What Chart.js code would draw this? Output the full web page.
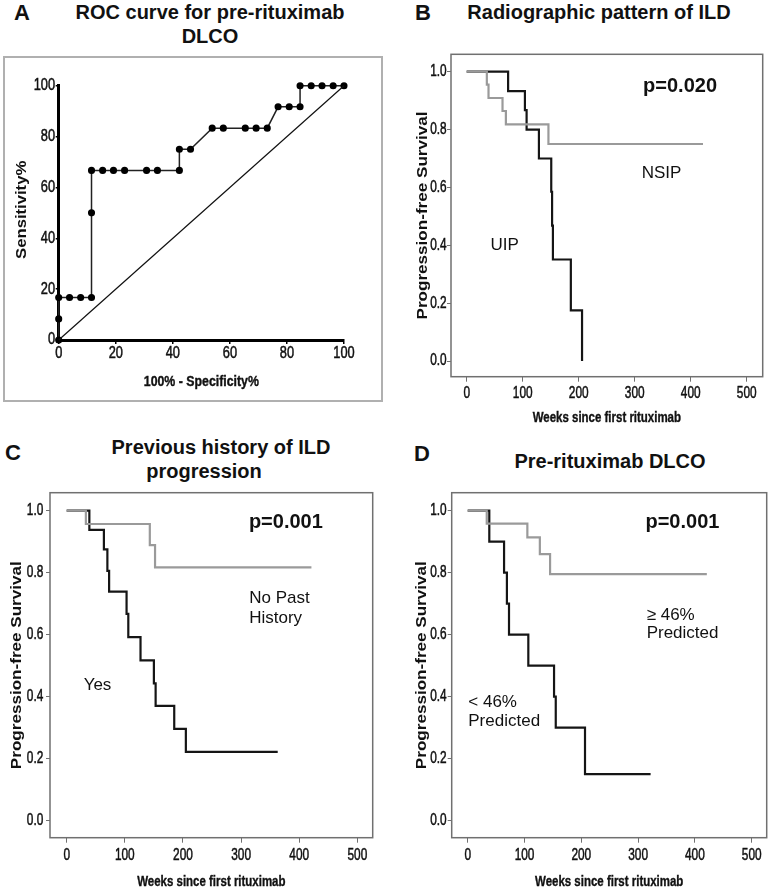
<!DOCTYPE html>
<html>
<head>
<meta charset="utf-8">
<script src="https://cdn.jsdelivr.net/npm/chart.js@4.4.1/dist/chart.umd.min.js"></script>
<style>
  body { margin: 0; background: #fff; width: 771px; height: 892px; position: relative; overflow: hidden;
         font-family: 'Liberation Sans', Arial, sans-serif; color: #111; }
  canvas { position: absolute; }
  .t { position: absolute; transform: translate(-50%, -50%); font-weight: bold; font-size: 20px;
       line-height: 1; white-space: nowrap; }
  .lbl { font-size: 22px; }
  #boxA { position: absolute; left: 3px; top: 56px; width: 380px; height: 346px;
          border: 2px solid #b0b0b0; box-sizing: border-box; }
</style>
</head>
<body>
<div id="boxA"></div>
<div class="t lbl" style="left:22px;top:13px">A</div>
<div class="t" style="left:210px;top:12px">ROC curve for pre-rituximab</div>
<div class="t" style="left:210px;top:36px">DLCO</div>
<div class="t lbl" style="left:423px;top:13px">B</div>
<div class="t" style="left:599px;top:12px">Radiographic pattern of ILD</div>
<div class="t lbl" style="left:13px;top:453px">C</div>
<div class="t" style="left:221px;top:447px">Previous history of ILD</div>
<div class="t" style="left:204px;top:471px">progression</div>
<div class="t lbl" style="left:422px;top:454px">D</div>
<div class="t" style="left:610px;top:461px">Pre-rituximab DLCO</div>

<canvas id="rocChart" width="376" height="342" style="left:5px;top:58px"></canvas>
<canvas id="ildChart" width="386" height="395" style="left:385px;top:40px"></canvas>
<canvas id="historyChart" width="385" height="410" style="left:0px;top:482px"></canvas>
<canvas id="dlcoChart" width="386" height="410" style="left:385px;top:482px"></canvas>

<script>
// ---- data ----
// A: ROC curve, pre-rituximab DLCO
const rocFpr  = [0, 0, 0, 3.8, 7.7, 11.5, 11.5, 11.5, 15.4, 19.2, 23.1, 30.8, 34.6, 42.3, 42.3, 46.2,
                 53.8, 57.7, 65.4, 69.2, 73.1, 76.9, 80.8, 84.6, 84.6, 88.5, 92.3, 96.2, 100];
const rocSens = [0, 8.3, 16.7, 16.7, 16.7, 16.7, 50, 66.7, 66.7, 66.7, 66.7, 66.7, 66.7, 66.7, 75, 75,
                 83.3, 83.3, 83.3, 83.3, 83.3, 91.7, 91.7, 91.7, 100, 100, 100, 100, 100];
const diagX = [0, 100];
const diagY = [0, 100];
const rocTicks = [0, 20, 40, 60, 80, 100];

// B-D: Kaplan-Meier curves (weeks since first rituximab, progression-free survival)
const weekTicks = [0, 100, 200, 300, 400, 500];
const survTicks = [0, 0.2, 0.4, 0.6, 0.8, 1.0];

const nsipWeeks = [0, 36, 39, 64, 70, 146, 422];
const nsipSurv  = [1, 0.955, 0.909, 0.864, 0.818, 0.75, 0.75];
const uipWeeks  = [0, 74, 104, 107, 129, 151, 152.5, 154, 186, 206];
const uipSurv   = [1, 0.933, 0.867, 0.8, 0.7, 0.585, 0.468, 0.351, 0.175, 0];

const noHistWeeks = [0, 33, 143, 152, 421];
const noHistSurv  = [1, 0.957, 0.889, 0.817, 0.817];
const yesWeeks = [0, 39, 64, 70, 73, 103, 106, 127, 150, 153, 185, 205, 363];
const yesSurv  = [1, 0.938, 0.875, 0.806, 0.739, 0.667, 0.592, 0.517, 0.443, 0.37, 0.296, 0.222, 0.222];

const hiWeeks = [0, 33.5, 105, 127, 145, 421];
const hiSurv  = [1, 0.958, 0.914, 0.86, 0.795, 0.795];
const loWeeks = [0, 38, 64, 69, 72.7, 106.7, 152, 155, 206.5, 322];
const loSurv  = [1, 0.9, 0.8, 0.7, 0.6, 0.5, 0.4, 0.3, 0.15, 0.15];

const SANS = "'Liberation Sans', Arial, sans-serif";
const GREY = '#9a9a9a';
const DARK = '#151515';

const pts = (xs, ys) => xs.map((x, i) => ({ x: x, y: ys[i] }));

// box round the plot area (SPSS style)
const framePlugin = {
  id: 'frame',
  beforeDatasetsDraw(chart, args, opts) {
    if (!opts.color) return;
    const a = chart.chartArea, ctx = chart.ctx;
    ctx.save();
    ctx.strokeStyle = opts.color;
    ctx.lineWidth = opts.width || 1.5;
    ctx.strokeRect(a.left, a.top, a.right - a.left, a.bottom - a.top);
    ctx.restore();
  }
};

// text placed at data coordinates
const notesPlugin = {
  id: 'notes',
  afterDatasetsDraw(chart, args, opts) {
    const ctx = chart.ctx, xs = chart.scales.x, ys = chart.scales.y;
    ctx.save();
    ctx.fillStyle = '#111';
    ctx.textBaseline = 'middle';
    (opts.items || []).forEach(n => {
      ctx.font = n.font;
      ctx.textAlign = n.align || 'center';
      ctx.fillText(n.text, xs.getPixelForValue(n.x), ys.getPixelForValue(n.y));
    });
    ctx.restore();
  }
};

const squeezePlugin = {
  id: 'squeeze',
  afterDraw(chart, args, o) {
    const ctx = chart.ctx, a = chart.chartArea, xs = chart.scales.x, ys = chart.scales.y;
    const put = (text, x, y, font, sx, align, rot, weight) => {
      ctx.save();
      ctx.translate(x, y);
      if (rot) ctx.rotate(-Math.PI / 2);
      ctx.scale(sx, 1);
      ctx.font = font;
      ctx.textAlign = align;
      ctx.textBaseline = 'middle';
      ctx.fillStyle = '#111';
      ctx.fillText(text, 0, 0);
      if (weight) {
        ctx.strokeStyle = '#111';
        ctx.lineWidth = weight;
        ctx.strokeText(text, 0, 0);
      }
      ctx.restore();
    };
    xs.ticks.forEach((t, i) => put(o.fmtX(t.value), xs.getPixelForTick(i), a.bottom + o.xGap, o.tickFont, o.tickSx, 'center', false, 0.5));
    ys.ticks.forEach((t, i) => put(o.fmtY(t.value), a.left - o.yGap, ys.getPixelForTick(i), o.tickFont, o.tickSx, 'right', false, 0.5));
    put(o.xTitle, (a.left + a.right) / 2, a.bottom + o.xTitleGap, o.xTitleFont, o.xTitleSx, 'center', false, 0.4);
    put(o.yTitle, a.left - o.yTitleGap, (a.top + a.bottom) / 2 + (o.yTitleDy || 0), o.yTitleFont, o.yTitleSx, 'center', true, 0);
  }
};

function axis(o) {
  return {
    type: 'linear',
    min: o.min,
    max: o.max,
    afterBuildTicks: s => { s.ticks = o.ticks.map(v => ({ value: v })); },
    afterFit: s => {
      if (o.w != null) s.width = o.w;
      if (o.h != null) s.height = o.h;
    },
    grid: { drawOnChartArea: false, drawTicks: true, tickLength: o.tickLen, color: o.tickColor, lineWidth: o.tickWidth },
    border: o.border,
    ticks: { display: false },
    title: { display: false }
  };
}

const baseOptions = (g, x, y, notes, squeeze) => ({
  responsive: false,
  animation: false,
  devicePixelRatio: 1,
  layout: { padding: { left: 0, top: g.top, right: g.right, bottom: 0 } },
  plugins: {
    legend: { display: false },
    tooltip: { enabled: false },
    frame: { color: g.frame, width: 1.5 },
    notes: { items: notes },
    squeeze: squeeze
  },
  scales: { x: x, y: y }
});

// ---- A: ROC ----
new Chart(document.getElementById('rocChart'), {
  type: 'line',
  data: {
    datasets: [
      { data: pts(diagX, diagY), borderColor: '#111', borderWidth: 1.2, pointRadius: 0, clip: false },
      { data: pts(rocFpr, rocSens), borderColor: '#222', borderWidth: 1.5, tension: 0,
        pointRadius: 2.8, pointBackgroundColor: '#000', pointBorderColor: '#000', clip: false }
    ]
  },
  options: baseOptions(
    { top: 27.7, right: 37, frame: null },
    axis({ min: 0, max: 100, ticks: rocTicks, h: 60, tickLen: 4, tickColor: '#000', tickWidth: 1.5,
           border: { display: true, color: '#000', width: 3 } }),
    axis({ min: 0, max: 100, ticks: rocTicks, w: 53.7, tickLen: 3, tickColor: '#000', tickWidth: 1.5,
           border: { display: true, color: '#000', width: 3 } }),
    [],
    { tickFont: '16px ' + SANS, tickSx: 0.8, fmtX: String, fmtY: String, xGap: 13.5, yGap: 3.7,
      xTitle: '100% - Specificity%', xTitleFont: 'bold 14.5px ' + SANS, xTitleSx: 0.85, xTitleGap: 41.7,
      yTitle: 'Sensitivity%', yTitleFont: 'bold 14px ' + SANS, yTitleSx: 1.19, yTitleGap: 37, yTitleDy: -3 }
  ),
  plugins: [framePlugin, notesPlugin, squeezePlugin]
});

// ---- B-D: Kaplan-Meier panels ----
function kmChart(id, g, sets, notes) {
  new Chart(document.getElementById(id), {
    type: 'line',
    data: {
      datasets: sets.map(s => ({
        data: pts(s.x, s.y), stepped: 'before', borderColor: s.color, borderWidth: 2.2,
        pointRadius: 0, fill: false
      }))
    },
    options: baseOptions(
      { top: g.top, right: g.right, frame: '#707070' },
      axis({ min: g.xMin, max: g.xMax, ticks: weekTicks, h: g.xh, tickLen: 5, tickColor: '#707070', tickWidth: 1,
             border: { display: false } }),
      axis({ min: g.yMin, max: g.yMax, ticks: survTicks, w: g.yw, tickLen: 4, tickColor: '#707070', tickWidth: 1,
             border: { display: false } }),
      notes,
      { tickFont: '16px ' + SANS, tickSx: 0.74, fmtX: String, fmtY: v => v.toFixed(1),
        xGap: g.xGap, yGap: g.yGap,
        xTitle: 'Weeks since first rituximab', xTitleFont: 'bold 15.5px ' + SANS, xTitleSx: 0.74, xTitleGap: g.xTitleGap,
        yTitle: 'Progression-free Survival', yTitleFont: 'bold 14px ' + SANS, yTitleSx: 1.22, yTitleGap: g.yTitleGap }
    ),
    plugins: [framePlugin, notesPlugin, squeezePlugin]
  });
}

const PFONT = "bold 20px " + SANS;
const NFONT = "17px " + SANS;

kmChart('ildChart',
  { top: 14.3, right: 8.3, xh: 58.3, yw: 66, xMin: -28, xMax: 528.6, yMin: -0.054, yMax: 1.06,
    xGap: 17.3, yGap: 4.3, xTitleGap: 41.3, yTitleGap: 28 },
  [ { x: nsipWeeks, y: nsipSurv, color: GREY }, { x: uipWeeks, y: uipSurv, color: DARK } ],
  [ { text: 'p=0.020', x: 381, y: 0.949, font: PFONT },
    { text: 'NSIP', x: 348, y: 0.649, font: NFONT },
    { text: 'UIP', x: 68, y: 0.399, font: NFONT } ]);

kmChart('historyChart',
  { top: 10.7, right: 12.3, xh: 54.3, yw: 50, xMin: -28.7, xMax: 526.4, yMin: -0.055, yMax: 1.058,
    xGap: 18.3, yGap: 6.7, xTitleGap: 44, yTitleGap: 33.3 },
  [ { x: noHistWeeks, y: noHistSurv, color: GREY }, { x: yesWeeks, y: yesSurv, color: DARK } ],
  [ { text: 'p=0.001', x: 377, y: 0.962, font: PFONT },
    { text: 'No Past', x: 314, y: 0.717, font: NFONT, align: 'left' },
    { text: 'History', x: 314, y: 0.653, font: NFONT, align: 'left' },
    { text: 'Yes', x: 53, y: 0.438, font: NFONT } ]);

kmChart('dlcoChart',
  { top: 10.7, right: 4.3, xh: 54.3, yw: 66.7, xMin: -28.2, xMax: 526.4, yMin: -0.055, yMax: 1.058,
    xGap: 18.3, yGap: 5, xTitleGap: 44, yTitleGap: 29.2 },
  [ { x: hiWeeks, y: hiSurv, color: GREY }, { x: loWeeks, y: loSurv, color: DARK } ],
  [ { text: 'p=0.001', x: 378, y: 0.962, font: PFONT },
    { text: '\u2265 46%', x: 315, y: 0.664, font: NFONT, align: 'left' },
    { text: 'Predicted', x: 315, y: 0.605, font: NFONT, align: 'left' },
    { text: '< 46%', x: 1, y: 0.383, font: NFONT, align: 'left' },
    { text: 'Predicted', x: 1, y: 0.32, font: NFONT, align: 'left' } ]);
</script>
</body>
</html>
